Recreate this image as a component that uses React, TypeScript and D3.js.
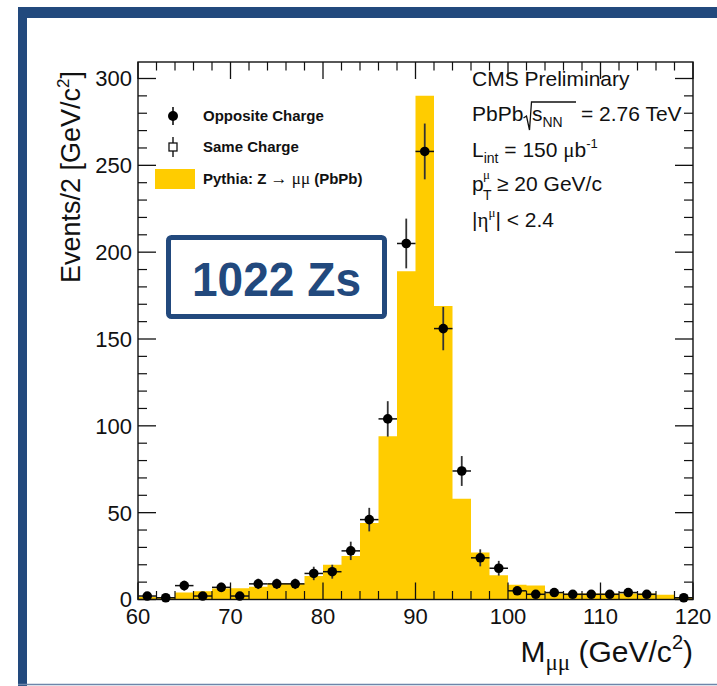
import React from 'react';
import * as d3 from 'd3';

// Bin lower edges (GeV/c^2), bin width 2
const binLow = [60, 62, 64, 66, 68, 70, 72, 74, 76, 78, 80, 82, 84, 86, 88, 90, 92, 94, 96, 98, 100, 102, 104, 106, 108, 110, 112, 114, 116, 118];
// Pythia Z -> mumu template (events / 2 GeV)
const pythia = [1.5, 1.5, 4, 4.8, 6.3, 6.5, 7.4, 9.4, 9.2, 13.6, 20, 25, 44, 94, 189, 290, 169, 58, 27, 14, 8.5, 8, 3.6, 3.5, 3.5, 3.5, 3.5, 3.5, 2.7, 1.5];
// Opposite-charge data counts
const opposite = [2, 1, 8, 2, 7, 2, 9, 9, 9, 15, 16, 28, 46, 104, 205, 258, 156, 74, 24, 18, 5, 3, 4, 3, 3, 3, 4, 3, 0, 1];

const xTicks = [60, 70, 80, 90, 100, 110, 120];
const xMinor = [62, 64, 66, 68, 72, 74, 76, 78, 82, 84, 86, 88, 92, 94, 96, 98, 102, 104, 106, 108, 112, 114, 116, 118];
const yTicks = [0, 50, 100, 150, 200, 250, 300];
const yMinor = [10, 20, 30, 40, 60, 70, 80, 90, 110, 120, 130, 140, 160, 170, 180, 190, 210, 220, 230, 240, 260, 270, 280, 290];

const BIN_W = 2;
const SANS = "'Liberation Sans', Arial, sans-serif";
const SERIF = "'Liberation Serif', 'DejaVu Serif', serif";
const BLUE = '#22497d';
const GOLD = '#ffcc00';

export default function App() {
  const W = 717;
  const H = 686;
  const x = d3.scaleLinear().domain([60, 120]).range([138, 693]);
  const y = d3.scaleLinear().domain([0, 309.5]).range([599.5, 62]);
  const [x0, x1] = x.range();
  const [yb, yt] = y.range();

  const histPts = binLow.map((b, i) => ({ x: b, v: pythia[i] }));
  histPts.push({ x: binLow[binLow.length - 1] + BIN_W, v: pythia[pythia.length - 1] });
  const area = d3
    .area<{ x: number; v: number }>()
    .curve(d3.curveStepAfter)
    .x((d) => x(d.x))
    .y0(y(0))
    .y1((d) => y(d.v));

  const pts = binLow
    .map((b, i) => ({ c: b + BIN_W / 2, n: opposite[i] }))
    .filter((d) => d.n > 0);

  const majLen = 17;
  const minLen = 8.5;

  return (
    <svg
      width={W}
      height={H}
      viewBox={`0 0 ${W} ${H}`}
      style={{ position: 'fixed', left: 0, top: 0, background: '#fff' }}
    >
      <rect x={0} y={0} width={W} height={H} fill="#fff" />
      {/* slide frame */}
      <rect x={18} y={7} width={9} height={H - 7} fill={BLUE} />
      <rect x={18} y={7} width={W - 18} height={11} fill={BLUE} />
      <line x1={18} x2={W} y1={684.5} y2={684.5} stroke="#6d86aa" strokeWidth={1.6} />

      {/* histogram */}
      <path d={area(histPts) || ''} fill={GOLD} />

      {/* frame */}
      <rect x={x0} y={yt} width={x1 - x0} height={yb - yt} fill="none" stroke="#111" strokeWidth={1.4} />

      {/* x ticks */}
      {xTicks.map((t) => (
        <g key={'xt' + t}>
          <line x1={x(t)} x2={x(t)} y1={yb} y2={yb - majLen} stroke="#111" strokeWidth={1.3} />
          <line x1={x(t)} x2={x(t)} y1={yt} y2={yt + majLen} stroke="#111" strokeWidth={1.3} />
          <text x={x(t)} y={624} textAnchor="middle" fontFamily={SANS} fontSize={22} fill="#111">
            {t}
          </text>
        </g>
      ))}
      {xMinor.map((t) => (
        <g key={'xm' + t}>
          <line x1={x(t)} x2={x(t)} y1={yb} y2={yb - minLen} stroke="#111" strokeWidth={1.2} />
          <line x1={x(t)} x2={x(t)} y1={yt} y2={yt + minLen} stroke="#111" strokeWidth={1.2} />
        </g>
      ))}
      {/* y ticks */}
      {yTicks.map((t) => (
        <g key={'yt' + t}>
          <line x1={x0} x2={x0 + majLen + 1} y1={y(t)} y2={y(t)} stroke="#111" strokeWidth={1.3} />
          <line x1={x1} x2={x1 - majLen - 1} y1={y(t)} y2={y(t)} stroke="#111" strokeWidth={1.3} />
          <text x={132} y={y(t)} dy="0.36em" textAnchor="end" fontFamily={SANS} fontSize={22} fill="#111">
            {t}
          </text>
        </g>
      ))}
      {yMinor.map((t) => (
        <g key={'ym' + t}>
          <line x1={x0} x2={x0 + 9} y1={y(t)} y2={y(t)} stroke="#111" strokeWidth={1.2} />
          <line x1={x1} x2={x1 - 9} y1={y(t)} y2={y(t)} stroke="#111" strokeWidth={1.2} />
        </g>
      ))}

      {/* data points */}
      {pts.map((d) => {
        const e = Math.sqrt(d.n);
        return (
          <g key={'p' + d.c}>
            <line x1={x(d.c - BIN_W / 2)} x2={x(d.c + BIN_W / 2)} y1={y(d.n)} y2={y(d.n)} stroke="#111" strokeWidth={1.5} />
            <line x1={x(d.c)} x2={x(d.c)} y1={y(d.n - e)} y2={y(d.n + e)} stroke="#333" strokeWidth={1.8} />
            <circle cx={x(d.c)} cy={y(d.n)} r={4.8} fill="#000" />
          </g>
        );
      })}

      {/* axis titles */}
      <text transform="translate(80,71) rotate(-90)" textAnchor="end" fontFamily={SANS} fontSize={27} fill="#111">
        Events/2 [GeV/c<tspan fontSize={17} dy={-11}>2</tspan>
        <tspan dy={11}>]</tspan>
      </text>
      <text x={693} y={662} textAnchor="end" fontFamily={SANS} fontSize={30} fill="#111">
        M<tspan fontFamily={SERIF} fontSize={23} dy={8}>μμ</tspan>
        <tspan dy={-8}> (GeV/c</tspan>
        <tspan fontSize={20} dy={-13}>2</tspan>
        <tspan dy={13}>)</tspan>
      </text>

      {/* legend */}
      <line x1={173} x2={173} y1={107} y2={125} stroke="#111" strokeWidth={1.6} />
      <circle cx={173} cy={116} r={5} fill="#000" />
      <text x={203} y={121} fontFamily={SANS} fontWeight="bold" fontSize={15} fill="#111">
        Opposite Charge
      </text>
      <line x1={173} x2={173} y1={137} y2={157} stroke="#111" strokeWidth={1.4} />
      <rect x={169} y={143} width={8} height={8} fill="#fff" stroke="#111" strokeWidth={1.3} />
      <text x={203} y={152} fontFamily={SANS} fontWeight="bold" fontSize={15} fill="#111">
        Same Charge
      </text>
      <rect x={155} y={169} width={40} height={20} fill={GOLD} />
      <text x={203} y={184} fontFamily={SANS} fontWeight="bold" fontSize={15} fill="#111">
        Pythia: Z <tspan fontWeight="normal" fontFamily={SERIF} fontSize={17}>→ μμ</tspan> (PbPb)
      </text>

      {/* info text */}
      <g fontFamily={SANS} fontSize={21} fill="#111">
        <text x={472} y={86}>CMS Preliminary</text>
        <text x={472} y={121}>PbPb</text>
        <path d="M523.5,118 L526.5,116 L529.5,130 L531.5,102 L576,102" fill="none" stroke="#111" strokeWidth={1.3} />
        <text x={532} y={121}>
          s<tspan fontSize={14} dy={6}>NN</tspan>
        </text>
        <text x={581} y={121}>= 2.76 TeV</text>
        <text x={472} y={157}>
          L<tspan fontSize={14} dy={6}>int</tspan>
          <tspan dy={-6}> = 150 </tspan>
          <tspan fontFamily={SERIF}>μ</tspan>b<tspan fontSize={13} dy={-9}>-1</tspan>
        </text>
        <text x={472} y={191}>p</text>
        <text x={483} y={200} fontSize={14}>T</text>
        <text x={483} y={179} fontFamily={SERIF} fontSize={13}>μ</text>
        <text x={497} y={191}>≥ 20 GeV/c</text>
        <text x={472} y={227}>
          |<tspan fontFamily={SERIF}>η</tspan>
          <tspan fontFamily={SERIF} fontSize={13} dy={-10}>μ</tspan>
          <tspan dy={10}>| &lt; 2.4</tspan>
        </text>
      </g>

      {/* 1022 Zs box */}
      <rect x={168.5} y={237.5} width={216} height={79} rx={3} fill="#fff" stroke={BLUE} strokeWidth={5} />
      <text
        x={276.5}
        y={296}
        textAnchor="middle"
        fontFamily={SANS}
        fontWeight="bold"
        fontSize={49}
        fill={BLUE}
        textLength={169}
        lengthAdjust="spacingAndGlyphs"
      >
        1022 Zs
      </text>
    </svg>
  );
}
